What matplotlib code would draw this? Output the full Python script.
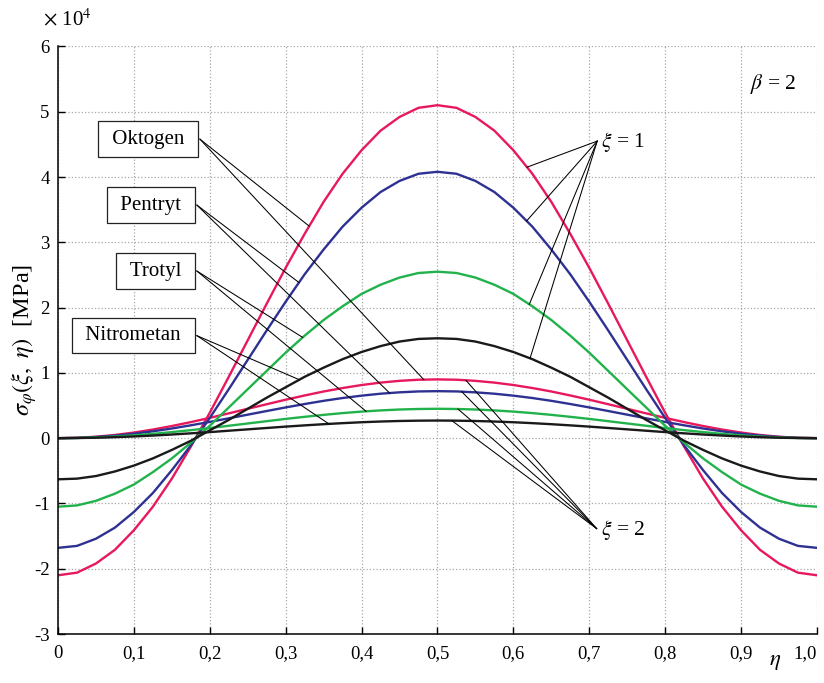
import numpy as np
import matplotlib
matplotlib.use('Agg')
import matplotlib.pyplot as plt

plt.rcParams['font.family'] = ['Liberation Serif', 'DejaVu Serif']
plt.rcParams['mathtext.fontset'] = 'stix'

# eta grid (0 ... 1 step 0.025)
eta = np.linspace(0, 1, 41)

# xi = 1 (values in 1e4 MPa)
okt1 = [-2.10, -2.06, -1.92, -1.71, -1.41, -1.05, -0.62, -0.13, 0.39, 0.94, 1.50, 2.06, 2.61, 3.13,
        3.62, 4.05, 4.41, 4.71, 4.92, 5.06, 5.10, 5.06, 4.92, 4.71, 4.41, 4.05, 3.62, 3.13, 2.61, 2.06,
        1.50, 0.94, 0.39, -0.13, -0.62, -1.05, -1.41, -1.71, -1.92, -2.06, -2.10]
pen1 = [-1.68, -1.65, -1.54, -1.37, -1.13, -0.84, -0.49, -0.11, 0.31, 0.75, 1.20, 1.65, 2.09, 2.51,
        2.89, 3.24, 3.53, 3.77, 3.94, 4.05, 4.08, 4.05, 3.94, 3.77, 3.53, 3.24, 2.89, 2.51, 2.09, 1.65,
        1.20, 0.75, 0.31, -0.11, -0.49, -0.84, -1.13, -1.37, -1.54, -1.65, -1.68]
tro1 = [-1.05, -1.03, -0.96, -0.85, -0.71, -0.52, -0.31, -0.07, 0.19, 0.47, 0.75, 1.03, 1.31, 1.57,
        1.81, 2.02, 2.21, 2.35, 2.46, 2.53, 2.55, 2.53, 2.46, 2.35, 2.21, 2.02, 1.81, 1.57, 1.31, 1.03,
        0.75, 0.47, 0.19, -0.07, -0.31, -0.52, -0.71, -0.85, -0.96, -1.03, -1.05]
nit1 = [-0.63, -0.62, -0.58, -0.51, -0.42, -0.31, -0.18, -0.04, 0.12, 0.28, 0.45, 0.62, 0.78, 0.94,
        1.08, 1.21, 1.32, 1.41, 1.48, 1.52, 1.53, 1.52, 1.48, 1.41, 1.32, 1.21, 1.08, 0.94, 0.78, 0.62,
        0.45, 0.28, 0.12, -0.04, -0.18, -0.31, -0.42, -0.51, -0.58, -0.62, -0.63]

# xi = 2
okt2 = [0.000, 0.006, 0.022, 0.049, 0.086, 0.132, 0.186, 0.246, 0.311, 0.380, 0.450, 0.520, 0.589,
        0.654, 0.715, 0.768, 0.814, 0.851, 0.878, 0.895, 0.900, 0.895, 0.878, 0.851, 0.814, 0.768,
        0.715, 0.654, 0.589, 0.520, 0.450, 0.380, 0.311, 0.246, 0.186, 0.132, 0.086, 0.049, 0.022,
        0.006, 0.000]
pen2 = [0.000, 0.004, 0.018, 0.039, 0.069, 0.105, 0.148, 0.197, 0.249, 0.304, 0.360, 0.416, 0.471,
        0.523, 0.572, 0.615, 0.651, 0.681, 0.702, 0.716, 0.720, 0.716, 0.702, 0.681, 0.651, 0.615,
        0.572, 0.523, 0.471, 0.416, 0.360, 0.304, 0.249, 0.197, 0.148, 0.105, 0.069, 0.039, 0.018,
        0.004, 0.000]
tro2 = [0.000, 0.003, 0.011, 0.025, 0.043, 0.066, 0.093, 0.123, 0.155, 0.190, 0.225, 0.260, 0.295,
        0.327, 0.357, 0.384, 0.407, 0.425, 0.439, 0.447, 0.450, 0.447, 0.439, 0.425, 0.407, 0.384,
        0.357, 0.327, 0.295, 0.260, 0.225, 0.190, 0.155, 0.123, 0.093, 0.066, 0.043, 0.025, 0.011,
        0.003, 0.000]
nit2 = [0.000, 0.002, 0.007, 0.015, 0.026, 0.040, 0.056, 0.074, 0.093, 0.114, 0.135, 0.156, 0.177,
        0.196, 0.214, 0.230, 0.244, 0.255, 0.263, 0.268, 0.270, 0.268, 0.263, 0.255, 0.244, 0.230,
        0.214, 0.196, 0.177, 0.156, 0.135, 0.114, 0.093, 0.074, 0.056, 0.040, 0.026, 0.015, 0.007,
        0.002, 0.000]

names = ['Oktogen', 'Pentryt', 'Trotyl', 'Nitrometan']
colors = ['#e8185c', '#2e3192', '#22b24c', '#1a1a1a']
xi1 = [okt1, pen1, tro1, nit1]
xi2 = [okt2, pen2, tro2, nit2]

xticks = [0, 0.1, 0.2, 0.3, 0.4, 0.5, 0.6, 0.7, 0.8, 0.9, 1.0]
xlabels = ['0', '0,1', '0,2', '0,3', '0,4', '0,5', '0,6', '0,7', '0,8', '0,9', '1,0']
yticks = [-3, -2, -1, 0, 1, 2, 3, 4, 5, 6]
ylabels = ['-3', '-2', '-1', '0', '1', '2', '3', '4', '5', '6']

fig = plt.figure(figsize=(8.24, 6.83), dpi=100)
ax = fig.add_axes([0.0704, 0.0717, 0.921, 0.8603])

for s1, s2, c in zip(xi1, xi2, colors):
    ax.plot(eta, s1, color=c, lw=1.7)
    ax.plot(eta, s2, color=c, lw=1.7)

ax.set_xlim(0, 1)
ax.set_ylim(-3, 6)
ax.set_xticks(xticks)
ax.set_xticklabels(xlabels)
ax.set_yticks(yticks)
ax.set_yticklabels(ylabels)
ax.tick_params(direction='in', length=5, width=1, labelsize=13.5, pad=8)
ax.tick_params(axis='y', pad=6)
ax.get_xticklabels()[-1].set_ha('right')
ax.grid(True, ls=':', color='#a8a8a8', lw=0.9)
ax.spines['top'].set_visible(False)
ax.spines['right'].set_visible(False)
for sp in ['left', 'bottom']:
    ax.spines[sp].set_linewidth(1.1)


def on(series, e):
    return e, np.interp(e, eta, series)


# material labels with leader lines
box_edge = [(0.187, 4.58), (0.183, 3.57), (0.183, 2.56), (0.183, 1.57)]
hit1 = [0.331, 0.3175, 0.3224, 0.318]
hit2 = [0.482, 0.437, 0.406, 0.357]
for name, (bx, by), s1, s2, e1, e2 in zip(names, box_edge, xi1, xi2, hit1, hit2):
    ax.text(bx - 0.014, by, ' ' + name + ' ', ha='right', va='center', fontsize=15,
            bbox=dict(boxstyle='square,pad=0.4', fc='white', ec='#222222', lw=0.9))
    for s, e in ((s1, e1), (s2, e2)):
        x1, y1 = on(s, e)
        ax.plot([bx, x1], [by, y1], color='black', lw=0.75)

# xi = 1 / xi = 2 annotations
apex1 = (0.7105, 4.55)
apex2 = (0.7097, -1.385)
hits_a = [0.618, 0.6175, 0.621, 0.622]
hits_b = [0.5375, 0.532, 0.527, 0.519]
for s, e in zip(xi1, hits_a):
    x1, y1 = on(s, e)
    ax.plot([apex1[0], x1], [apex1[1], y1], color='black', lw=0.75)
for s, e in zip(xi2, hits_b):
    x1, y1 = on(s, e)
    ax.plot([apex2[0], x1], [apex2[1], y1], color='black', lw=0.75)
ax.text(0.716, 4.54, r'$\xi$ = 1', ha='left', va='center', fontsize=15.5)
ax.text(0.716, -1.41, r'$\xi$ = 2', ha='left', va='center', fontsize=15.5)
ax.text(0.912, 5.43, r'$\beta$ = 2', ha='left', va='center', fontsize=15.5)

fig.text(0.052, 0.972, r'$\times$ 10$^4$', ha='left', va='center', fontsize=15)
fig.text(775 / 824, 1 - 662 / 683, r'$\eta$', ha='center', va='center', fontsize=16.5)
fig.text(24 / 824, 1 - 340 / 683, r'$\sigma_{\varphi}(\xi,\ \eta)$  [MPa]', rotation=90,
         ha='center', va='center', fontsize=17.5)

fig.savefig('out.png', dpi=100)
